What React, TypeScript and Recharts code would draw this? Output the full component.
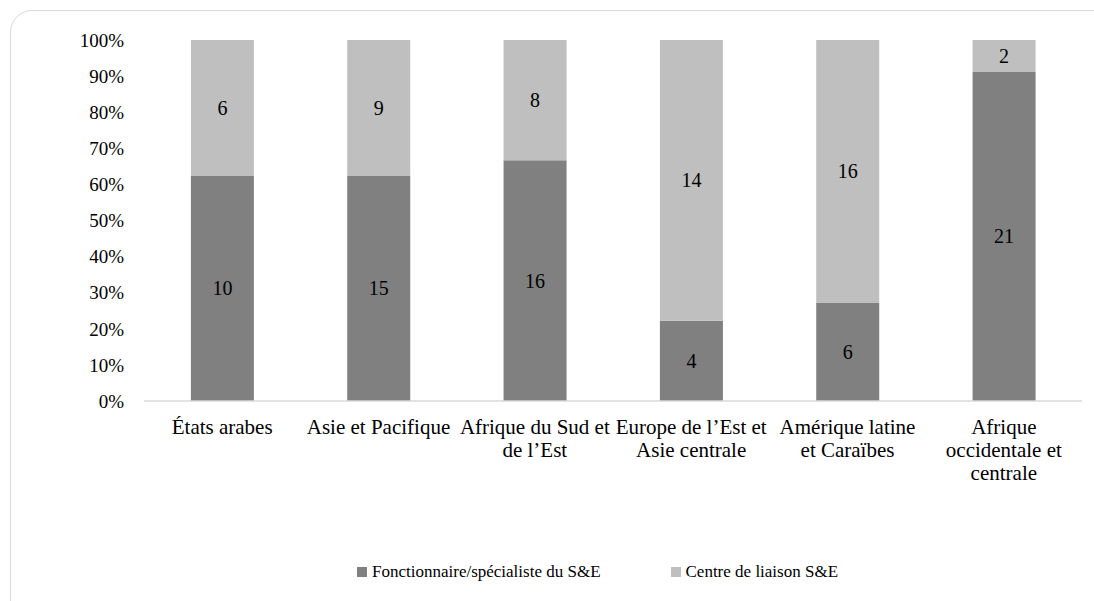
import React from "react";
import { BarChart, Bar, XAxis, YAxis, Legend, LabelList } from "recharts";

const categories = [
  "États arabes",
  "Asie et Pacifique",
  "Afrique du Sud et de l’Est",
  "Europe de l’Est et Asie centrale",
  "Amérique latine et Caraïbes",
  "Afrique occidentale et centrale",
];
const categoryLines = [
  ["États arabes"],
  ["Asie et Pacifique"],
  ["Afrique du Sud et", "de l’Est"],
  ["Europe de l’Est et", "Asie centrale"],
  ["Amérique latine", "et Caraïbes"],
  ["Afrique", "occidentale et", "centrale"],
];
const fonctionnaire = [10, 15, 16, 4, 6, 21];
const centre = [6, 9, 8, 14, 16, 2];
const yTicks = [0, 0.1, 0.2, 0.3, 0.4, 0.5, 0.6, 0.7, 0.8, 0.9, 1];
const seriesNames = ["Fonctionnaire/spécialiste du S&E", "Centre de liaison S&E"];
const colors = ["#808080", "#bfbfbf"];

const data = categories.map((c, i) => ({
  name: c,
  a: fonctionnaire[i],
  b: centre[i],
}));

const FONT = "'Liberation Serif', 'Times New Roman', serif";

const CatTick = (props: any) => {
  const { x, y, payload } = props;
  const idx = categories.indexOf(payload.value);
  const lines = categoryLines[idx] || [payload.value];
  return (
    <text x={x} y={y} textAnchor="middle" fill="#000" fontSize={21} fontFamily={FONT}>
      {lines.map((l, i) => (
        <tspan key={i} x={x} dy={i === 0 ? 33 : 23}>
          {l}
        </tspan>
      ))}
    </text>
  );
};

const LegendContent = () => (
  <div style={{ display: "flex", justifyContent: "flex-start", fontFamily: FONT, fontSize: 17, color: "#000" }}>
    {seriesNames.map((n, i) => (
      <div
        key={n}
        style={{
          display: "flex",
          alignItems: "center",
          marginLeft: i === 0 ? 357 : 70,
        }}
      >
        <span style={{ display: "inline-block", width: 10, height: 10, background: colors[i], marginRight: 5 }} />
        <span>{n}</span>
      </div>
    ))}
  </div>
);

export default function App() {
  return (
    <div style={{ position: "absolute", left: 0, top: 0, width: 1094, height: 601, background: "#fff", overflow: "hidden" }}>
      <div
        style={{
          position: "absolute",
          left: 10,
          top: 10,
          width: 1120,
          height: 640,
          border: "1.5px solid #d9d9d9",
          borderRadius: 22,
          boxSizing: "border-box",
        }}
      />
      <div style={{ position: "absolute", left: 0, top: 0 }}>
        <BarChart
          width={1094}
          height={601}
          data={data}
          stackOffset="expand"
          barCategoryGap="30%"
          margin={{ top: 40, right: 12, bottom: 0, left: 0 }}
        >
          <XAxis
            dataKey="name"
            tick={<CatTick />}
            tickLine={false}
            tickSize={0}
            tickMargin={0}
            height={170}
            interval={0}
            axisLine={{ stroke: "#d9d9d9", strokeWidth: 1.5 }}
          />
          <YAxis
            width={144}
            ticks={yTicks}
            domain={[0, 1]}
            tickFormatter={(v: number) => `${Math.round(v * 100)}%`}
            axisLine={false}
            tickLine={false}
            tickSize={0}
            tickMargin={20}
            tick={{ fill: "#000", fontSize: 19, fontFamily: FONT }}
          />
          <Legend
            verticalAlign="bottom"
            height={30}
            content={<LegendContent />}
            wrapperStyle={{ top: 562, left: 0, width: 1094 }}
          />
          <Bar dataKey="a" name={seriesNames[0]} stackId="s" fill={colors[0]} isAnimationActive={false}>
            <LabelList dataKey="a" position="center" fill="#000" fontSize={20} fontFamily={FONT} />
          </Bar>
          <Bar dataKey="b" name={seriesNames[1]} stackId="s" fill={colors[1]} isAnimationActive={false}>
            <LabelList dataKey="b" position="center" fill="#000" fontSize={20} fontFamily={FONT} />
          </Bar>
        </BarChart>
      </div>
    </div>
  );
}
